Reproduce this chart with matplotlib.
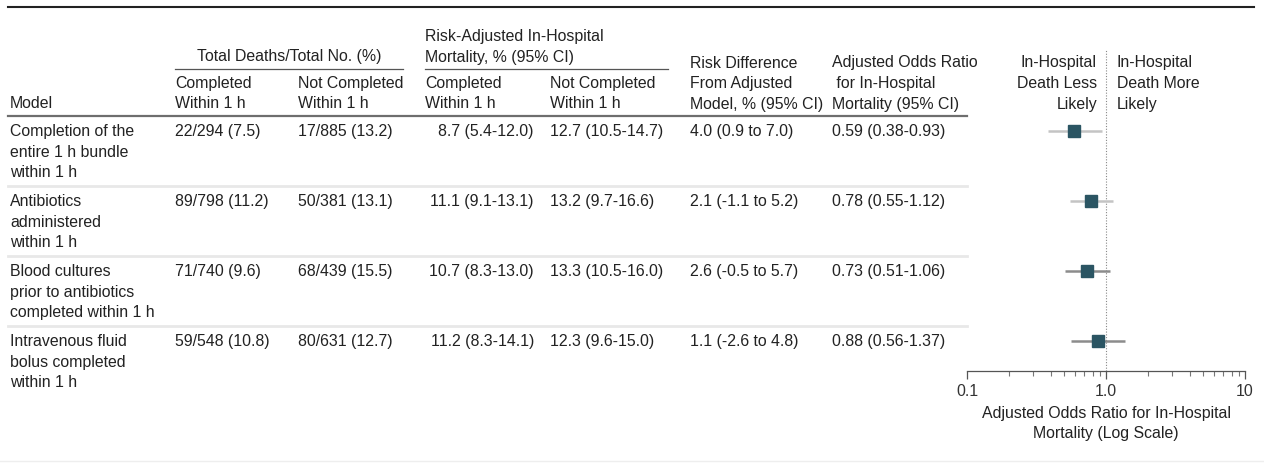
import numpy as np
import matplotlib
matplotlib.use('Agg')
import matplotlib.pyplot as plt
from matplotlib.ticker import FixedLocator, NullFormatter

plt.rcParams['font.family'] = ['Liberation Sans', 'DejaVu Sans']

# table data
models = [
    ['Completion of the', 'entire 1 h bundle', 'within 1 h'],
    ['Antibiotics', 'administered', 'within 1 h'],
    ['Blood cultures', 'prior to antibiotics', 'completed within 1 h'],
    ['Intravenous fluid', 'bolus completed', 'within 1 h'],
]
deaths_completed = ['22/294 (7.5)', '89/798 (11.2)', '71/740 (9.6)', '59/548 (10.8)']
deaths_not_completed = ['17/885 (13.2)', '50/381 (13.1)', '68/439 (15.5)', '80/631 (12.7)']
risk_completed = ['8.7 (5.4-12.0)', '11.1 (9.1-13.1)', '10.7 (8.3-13.0)', '11.2 (8.3-14.1)']
risk_not_completed = ['12.7 (10.5-14.7)', '13.2 (9.7-16.6)', '13.3 (10.5-16.0)', '12.3 (9.6-15.0)']
risk_diff = ['4.0 (0.9 to 7.0)', '2.1 (-1.1 to 5.2)', '2.6 (-0.5 to 5.7)', '1.1 (-2.6 to 4.8)']
or_text = ['0.59 (0.38-0.93)', '0.78 (0.55-1.12)', '0.73 (0.51-1.06)', '0.88 (0.56-1.37)']

# odds ratios for the forest plot
odds_ratio = [0.59, 0.78, 0.73, 0.88]
ci_low = [0.38, 0.55, 0.51, 0.56]
ci_high = [0.93, 1.12, 1.06, 1.37]

W, H = 1264, 464
fig = plt.figure(figsize=(W / 100, H / 100), dpi=100)

# full-figure axes in pixel coordinates for the table
tab = fig.add_axes([0, 0, 1, 1])
tab.set_xlim(0, W)
tab.set_ylim(H, 0)
tab.axis('off')

txt = '#222222'
fs = 11.4
pitch = 20.5


def put(x, y0, lines, ha='left'):
    for k, s in enumerate(lines):
        tab.text(x, y0 + k * pitch, s, ha=ha, va='center', fontsize=fs, color=txt)


# rules
tab.plot([8, 1254], [8, 8], color='#222222', lw=1.5)
tab.plot([8, 967], [117, 117], color='#6e6e6e', lw=1.6)
tab.plot([0, W], [462, 462], color='#eeeeee', lw=1)

# header
tab.text(289, 57, 'Total Deaths/Total No. (%)', ha='center', va='center', fontsize=fs, color=txt)
tab.plot([175, 403], [70, 70], color='#555555', lw=0.9)
put(425, 37, ['Risk-Adjusted In-Hospital', 'Mortality, % (95% CI)'])
tab.plot([425, 668], [70, 70], color='#555555', lw=0.9)

hy = 63
put(10, hy + 2 * pitch, ['Model'])
put(175, hy + pitch, ['Completed', 'Within 1 h'])
put(298, hy + pitch, ['Not Completed', 'Within 1 h'])
put(425, hy + pitch, ['Completed', 'Within 1 h'])
put(550, hy + pitch, ['Not Completed', 'Within 1 h'])
put(690, hy, ['Risk Difference', 'From Adjusted', 'Model, % (95% CI)'])
put(832, hy, ['Adjusted Odds Ratio', ' for In-Hospital', 'Mortality (95% CI)'])
put(1097, hy, ['In-Hospital', 'Death Less', 'Likely'], ha='right')
put(1117, hy, ['In-Hospital', 'Death More', 'Likely'])

# body rows
row0 = 132
row_h = 70
for i in range(len(models)):
    y = row0 + i * row_h
    put(10, y, models[i])
    put(175, y, [deaths_completed[i]])
    put(298, y, [deaths_not_completed[i]])
    put(534, y, [risk_completed[i]], ha='right')
    put(550, y, [risk_not_completed[i]])
    put(690, y, [risk_diff[i]])
    put(832, y, [or_text[i]])
    if i > 0:
        tab.plot([8, 967], [y - 15, y - 15], color='#e8e8e8', lw=2)

# forest plot axes: spans px 967..1245 horizontally, 50..372 vertically
ax = fig.add_axes([967 / W, (H - 372) / H, (1245 - 967) / W, (372 - 50) / H])
ax.set_xscale('log')
ax.set_xlim(0.1, 10)
ax.set_ylim((372 - row0) / row_h, (50 - row0) / row_h)
ax.patch.set_alpha(0)

rows = np.arange(len(odds_ratio))
ci_colors = ['#c4c4c4', '#c4c4c4', '#8c8c8c', '#8c8c8c']
for r in rows:
    ax.plot([ci_low[r], ci_high[r]], [r, r], color=ci_colors[r], lw=1.8, solid_capstyle='butt', zorder=2)
ax.plot(odds_ratio, rows, 's', color='#2b5563', markersize=8, zorder=3)
ax.axvline(1, color='#888888', lw=0.8, ls=(0, (1, 1.5)), zorder=1)

for s in ['top', 'right', 'left']:
    ax.spines[s].set_visible(False)
ax.spines['bottom'].set_color('#555555')
ax.spines['bottom'].set_linewidth(0.9)
ax.set_yticks([])
ax.xaxis.set_major_locator(FixedLocator([0.1, 1, 10]))
ax.set_xticklabels(['0.1', '1.0', '10'])
minor = [m * d for d in (0.1, 1) for m in range(2, 10)]
ax.xaxis.set_minor_locator(FixedLocator(minor))
ax.xaxis.set_minor_formatter(NullFormatter())
ax.tick_params(axis='x', which='major', length=6, width=0.9, color='#555555',
               labelsize=fs, labelcolor='#333333', pad=3)
ax.tick_params(axis='x', which='minor', length=3.5, width=0.8, color='#777777')
ax.set_xlabel('Adjusted Odds Ratio for In-Hospital\nMortality (Log Scale)',
              fontsize=fs, color=txt, labelpad=5, linespacing=1.35)

fig.savefig('out.png', dpi=100)
